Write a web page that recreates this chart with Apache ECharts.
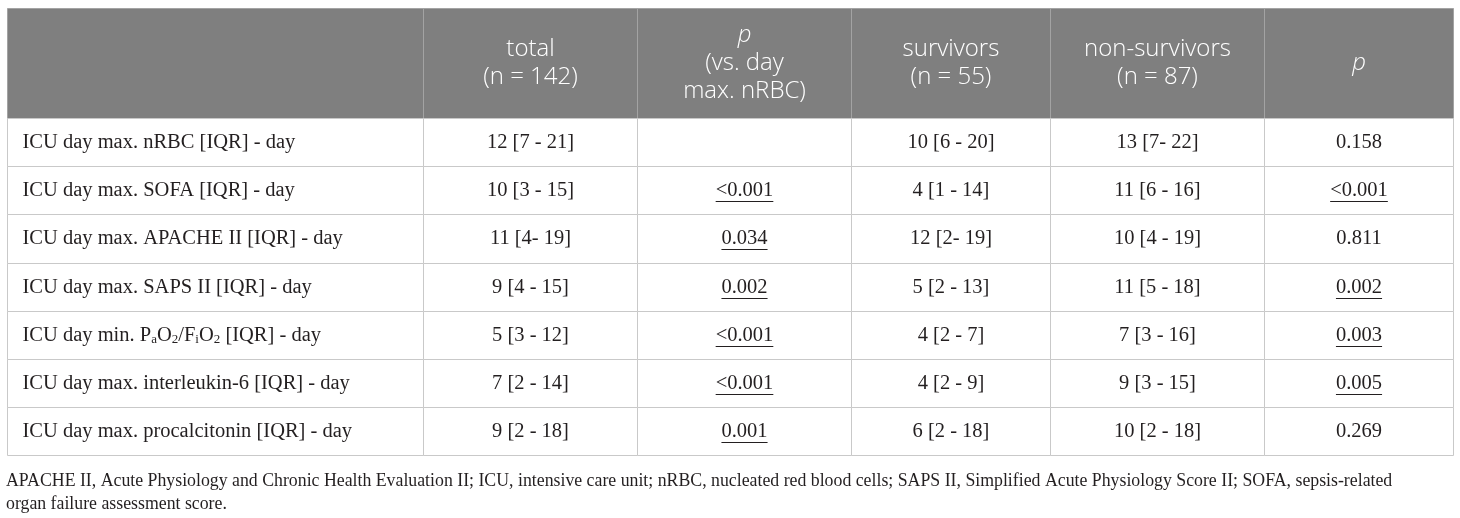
<!DOCTYPE html>
<html>
<head>
<meta charset="utf-8">
<script src="https://cdn.jsdelivr.net/npm/echarts@6/dist/echarts.min.js"></script>
<style>
html, body { margin: 0; padding: 0; background: #fff; }
#chart { width: 1460px; height: 518px; }
</style>
</head>
<body>
<div id="chart"></div>
<script>
// 表头（{it|p} 为斜体）
const headers = ['', 'total\n(n = 142)', '{it|p}\n(vs. day\nmax. nRBC)', 'survivors\n(n = 55)', 'non-survivors\n(n = 87)', '{it|p}'];

// 各列数据
const rowLabels = [
    'ICU day max. nRBC [IQR] - day',
    'ICU day max. SOFA [IQR] - day',
    'ICU day max. APACHE II [IQR] - day',
    'ICU day max. SAPS II [IQR] - day',
    'ICU day min. P{sub|a}O{sub|2}/F{sub|i}O{sub|2} [IQR] - day',
    'ICU day max. interleukin-6 [IQR] - day',
    'ICU day max. procalcitonin [IQR] - day'
];
const totalVals = ['12 [7 - 21]', '10 [3 - 15]', '11 [4- 19]', '9 [4 - 15]', '5 [3 - 12]', '7 [2 - 14]', '9 [2 - 18]'];
const pVsDay = ['', '<0.001', '0.034', '0.002', '<0.001', '<0.001', '0.001'];
const survivorVals = ['10 [6 - 20]', '4 [1 - 14]', '12 [2- 19]', '5 [2 - 13]', '4 [2 - 7]', '4 [2 - 9]', '6 [2 - 18]'];
const nonSurvivorVals = ['13 [7- 22]', '11 [6 - 16]', '10 [4 - 19]', '11 [5 - 18]', '7 [3 - 16]', '9 [3 - 15]', '10 [2 - 18]'];
const pSurvival = ['0.158', '<0.001', '0.811', '0.002', '0.003', '0.005', '0.269'];

const footnote = 'APACHE II, Acute Physiology and Chronic Health Evaluation II; ICU, intensive care unit; nRBC, nucleated red blood cells; SAPS II, Simplified Acute Physiology Score II; SOFA, sepsis-related\norgan failure assessment score.';

const columns = [rowLabels, totalVals, pVsDay, survivorVals, nonSurvivorVals, pSurvival];
const pColumns = [2, 5];

// 布局
const colWidths = [416, 214, 214, 199, 214, 189];
const rowHeights = [110, 48, 48, 48, 48, 48, 48, 48];
const colStart = [];
const rowStart = [];
colWidths.reduce((s, w, i) => { colStart[i] = s; return s + w; }, 0);
rowHeights.reduce((s, h, i) => { rowStart[i] = s; return s + h; }, 0);
const totalW = colWidths.reduce((a, b) => a + b, 0);
const totalH = rowHeights.reduce((a, b) => a + b, 0);

const SERIF = '"Liberation Serif", "DejaVu Serif", serif';
const SANS = '"Open Sans", "Noto Sans", sans-serif';
const BODY_SIZE = 20.5;
const HEAD_SIZE = 24;
const INK = '#231f20';

// 测量文字宽度（下划线用）
const measureCtx = document.createElement('canvas').getContext('2d');
function textWidth(str) {
    measureCtx.font = BODY_SIZE + 'px ' + SERIF;
    return measureCtx.measureText(str).width;
}

function isSignificant(v) {
    if (!v) return false;
    return parseFloat(v.replace('<', '')) < 0.05;
}

const cells = [];
for (let r = 0; r < rowHeights.length; r++) {
    for (let c = 0; c < colWidths.length; c++) {
        cells.push([c, r]);
    }
}

function renderCell(params, api) {
    const c = api.value(0), r = api.value(1);
    const p0 = api.coord([colStart[c], rowStart[r]]);
    const p1 = api.coord([colStart[c] + colWidths[c], rowStart[r] + rowHeights[r]]);
    const left = Math.round(p0[0]) + 0.5, top = Math.round(p0[1]) + 0.5;
    const right = Math.round(p1[0]) + 0.5, bottom = Math.round(p1[1]) + 0.5;
    const cx = (left + right) / 2, cy = (top + bottom) / 2;
    const isHead = r === 0;
    const children = [{
        type: 'rect',
        shape: { x: left, y: top, width: right - left, height: bottom - top },
        style: { fill: isHead ? '#7f7f7f' : '#fff', stroke: isHead ? '#a3a3a3' : '#c9c9c9', lineWidth: 1 }
    }];
    if (isHead) {
        children.push({
            type: 'text',
            x: cx, y: cy,
            style: {
                text: headers[c], align: 'center', verticalAlign: 'middle',
                fontFamily: SANS, fontSize: HEAD_SIZE, fontWeight: 350, lineHeight: 28, fill: '#fff',
                rich: { it: { fontFamily: SANS, fontSize: HEAD_SIZE, fontWeight: 350, lineHeight: 28, fontStyle: 'italic', fill: '#fff' } }
            }
        });
    } else {
        const v = columns[c][r - 1];
        const isLabel = c === 0;
        children.push({
            type: 'text',
            x: isLabel ? left + 15 : cx, y: cy,
            style: {
                text: v, align: isLabel ? 'left' : 'center', verticalAlign: 'middle',
                fontFamily: SERIF, fontSize: BODY_SIZE, lineHeight: 22, fill: INK,
                rich: {
                    sub: { fontFamily: SERIF, fontSize: 13, lineHeight: 13, verticalAlign: 'bottom', fill: INK }
                }
            }
        });
        if (pColumns.indexOf(c) >= 0 && isSignificant(v)) {
            const w = textWidth(v);
            const uy = Math.round(cy + 10) + 0.5;
            children.push({
                type: 'line',
                shape: { x1: cx - w / 2, y1: uy, x2: cx + w / 2, y2: uy },
                style: { stroke: INK, lineWidth: 1 }
            });
        }
    }
    return { type: 'group', children: children };
}

const chart = echarts.init(document.getElementById('chart'));
chart.setOption({
    animation: false,
    title: {
        text: footnote,
        left: 6, top: 470, padding: 0,
        textStyle: { fontFamily: SERIF, fontSize: 17.8, fontWeight: 'normal', color: INK, lineHeight: 23 }
    },
    grid: { left: 7, right: 7, top: 8, bottom: 63 },
    xAxis: { type: 'value', min: 0, max: totalW, show: false },
    yAxis: { type: 'value', min: 0, max: totalH, inverse: true, show: false },
    series: [{
        type: 'custom',
        renderItem: renderCell,
        data: cells,
        clip: false
    }]
});
</script>
</body>
</html>
